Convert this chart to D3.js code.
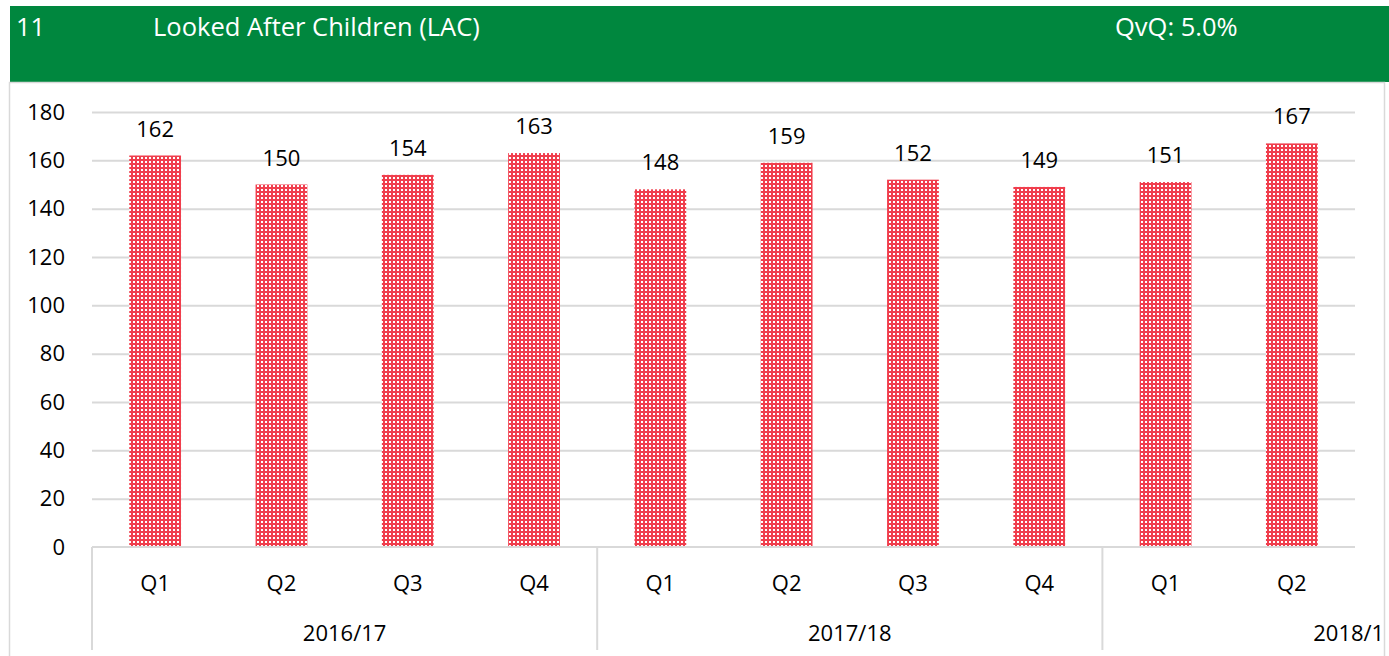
<!DOCTYPE html>
<html>
<head>
<meta charset="utf-8">
<script src="https://cdn.jsdelivr.net/npm/d3@7"></script>
<style>
  body { margin: 0; background: #fff; }
  svg { display: block; font-family: 'Open Sans', sans-serif; }
</style>
</head>
<body>
<svg id="chart" width="1389" height="656"></svg>
<script>
  var quarters = ['Q1', 'Q2', 'Q3', 'Q4', 'Q1', 'Q2', 'Q3', 'Q4', 'Q1', 'Q2'];
  var values = [162, 150, 154, 163, 148, 159, 152, 149, 151, 167];
  var years = ['2016/17', '2017/18', '2018/19'];
  var yearSpan = [4, 4, 4];
  var yTicks = [0, 20, 40, 60, 80, 100, 120, 140, 160, 180];
  var title = 'Looked After Children (LAC)';
  var number = '11';
  var change = 'QvQ: 5.0%';

  var svg = d3.select('#chart');
  var plot = { left: 92, right: 1355, top: 112, bottom: 547 };

  var defs = svg.append('defs');
  var pat = defs.append('pattern')
      .attr('id', 'dots')
      .attr('patternUnits', 'userSpaceOnUse')
      .attr('width', 4)
      .attr('height', 4);
  pat.append('rect').attr('width', 4).attr('height', 4).attr('fill', '#f03e4d');
  pat.append('rect').attr('x', 1).attr('y', 1).attr('width', 2).attr('height', 2)
      .attr('fill', '#fff');

  defs.append('clipPath').attr('id', 'box')
    .append('rect').attr('x', 9).attr('y', 82).attr('width', 1375).attr('height', 574);

  // header band
  svg.append('rect')
    .attr('x', 10).attr('y', 6).attr('width', 1379).attr('height', 76)
    .attr('fill', '#00873e');
  svg.selectAll('.head')
    .data([[16, number], [153, title], [1115, change]]).enter()
    .append('text')
      .attr('class', 'head')
      .attr('x', function (d) { return d[0]; })
      .attr('y', 36)
      .attr('fill', '#fff')
      .attr('font-size', 25.5)
      .text(function (d) { return d[1]; });

  // chart border
  svg.append('path')
    .attr('d', 'M9.5,656 V82.5 H1384.5 V656')
    .attr('fill', 'none').attr('stroke', '#d9d9d9').attr('stroke-width', 1.5);

  var x = d3.scaleBand()
      .domain(d3.range(values.length))
      .range([plot.left, plot.right])
      .paddingInner(0.59)
      .paddingOuter(0.295);
  var step = x.step();

  var y = d3.scaleLinear().domain([0, 180]).range([plot.bottom, plot.top]);

  var yAxis = d3.axisLeft(y).tickValues(yTicks)
      .tickSize(-(plot.right - plot.left)).tickPadding(27);

  var gy = svg.append('g')
      .attr('transform', 'translate(' + plot.left + ',0)')
      .call(yAxis);
  gy.select('.domain').remove();
  gy.selectAll('.tick line').attr('stroke', '#d9d9d9').attr('stroke-width', 2)
    .filter(function (d) { return d === 0; }).remove();
  gy.selectAll('.tick text').attr('font-size', 22).attr('fill', '#000')
    .attr('font-family', "'Open Sans', sans-serif");

  // bars
  svg.append('g').selectAll('rect')
    .data(values).enter()
    .append('rect')
      .attr('x', function (d, i) { return x(i); })
      .attr('y', function (d) { return y(d); })
      .attr('width', x.bandwidth())
      .attr('height', function (d) { return y(0) - y(d); })
      .attr('fill', 'url(#dots)');

  svg.append('g').selectAll('text')
    .data(values).enter()
    .append('text')
      .attr('x', function (d, i) { return x(i) + x.bandwidth() / 2; })
      .attr('y', function (d) { return y(d) - 19; })
      .attr('text-anchor', 'middle')
      .attr('font-size', 22)
      .text(function (d) { return d; });

  // category axis (two levels)
  var cat = svg.append('g').attr('clip-path', 'url(#box)');
  cat.append('line')
    .attr('x1', plot.left).attr('x2', plot.right)
    .attr('y1', plot.bottom).attr('y2', plot.bottom)
    .attr('stroke', '#d9d9d9').attr('stroke-width', 2);

  cat.selectAll('.q')
    .data(quarters).enter()
    .append('text')
      .attr('class', 'q')
      .attr('x', function (d, i) { return x(i) + x.bandwidth() / 2; })
      .attr('y', 591)
      .attr('text-anchor', 'middle')
      .attr('font-size', 22)
      .text(function (d) { return d; });

  var starts = [0];
  yearSpan.forEach(function (s, i) { starts.push(starts[i] + s); });

  cat.selectAll('.sep')
    .data(starts.slice(0, years.length)).enter()
    .append('line')
      .attr('class', 'sep')
      .attr('x1', function (s) { return plot.left + s * step; })
      .attr('x2', function (s) { return plot.left + s * step; })
      .attr('y1', plot.bottom).attr('y2', 650)
      .attr('stroke', '#d9d9d9').attr('stroke-width', 2);

  // the last year label runs past the chart edge, clipped as in the source
  cat.selectAll('.yr')
    .data(years).enter()
    .append('text')
      .attr('class', 'yr')
      .attr('x', function (d, i) { return plot.left + (starts[i] + yearSpan[i] / 2) * step; })
      .attr('y', 641)
      .attr('text-anchor', 'middle')
      .attr('font-size', 22)
      .text(function (d) { return d; });
</script>
</body>
</html>
